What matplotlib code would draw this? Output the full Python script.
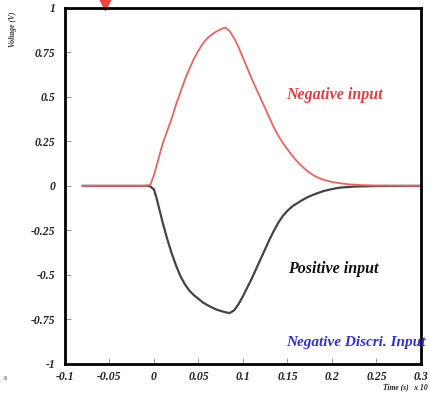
import matplotlib
matplotlib.use("Agg")
import matplotlib.pyplot as plt

# Dados (tempo em unidades de 1e-5 s, tensão em V)
t_neg = [-0.08, -0.01, -0.004, 0.0, 0.005, 0.010, 0.015, 0.020, 0.025, 0.030,
         0.035, 0.040, 0.045, 0.050, 0.055, 0.060, 0.065, 0.070, 0.075, 0.080,
         0.085, 0.090, 0.095, 0.100, 0.105, 0.110, 0.115, 0.120, 0.125, 0.130,
         0.135, 0.140, 0.145, 0.150, 0.155, 0.160, 0.165, 0.170, 0.175, 0.180,
         0.185, 0.190, 0.200, 0.210, 0.220, 0.235, 0.250, 0.300]
v_neg = [0.0, 0.0, 0.005, 0.06, 0.15, 0.24, 0.31, 0.38, 0.46, 0.53,
         0.60, 0.66, 0.715, 0.76, 0.80, 0.83, 0.85, 0.867, 0.88, 0.89,
         0.87, 0.83, 0.78, 0.72, 0.66, 0.60, 0.545, 0.49, 0.435, 0.38,
         0.325, 0.28, 0.24, 0.205, 0.172, 0.142, 0.116, 0.093, 0.073, 0.057,
         0.045, 0.035, 0.022, 0.014, 0.008, 0.004, 0.002, 0.0]

t_pos = [-0.08, -0.005, 0.0, 0.003, 0.006, 0.010, 0.015, 0.020, 0.025, 0.030,
         0.035, 0.040, 0.045, 0.050, 0.055, 0.060, 0.065, 0.070, 0.075, 0.080,
         0.085, 0.090, 0.095, 0.100, 0.105, 0.110, 0.115, 0.120, 0.125, 0.130,
         0.135, 0.140, 0.145, 0.150, 0.156, 0.165, 0.172, 0.179, 0.190, 0.200,
         0.209, 0.225, 0.250, 0.300]
v_pos = [0.0, 0.0, -0.02, -0.07, -0.13, -0.21, -0.30, -0.38, -0.45, -0.51,
         -0.555, -0.59, -0.615, -0.635, -0.655, -0.67, -0.683, -0.695, -0.703, -0.71,
         -0.715, -0.70, -0.665, -0.62, -0.57, -0.52, -0.465, -0.41, -0.355, -0.30,
         -0.25, -0.205, -0.168, -0.14, -0.113, -0.085, -0.065, -0.05, -0.03, -0.018,
         -0.01, -0.004, -0.001, 0.0]

x_ticks = [-0.1, -0.05, 0, 0.05, 0.1, 0.15, 0.2, 0.25, 0.3]
x_labels = ['-0.1', '-0.05', '0', '0.05', '0.1', '0.15', '0.2', '0.25', '0.3']
y_ticks = [-1, -0.75, -0.5, -0.25, 0, 0.25, 0.5, 0.75, 1]
y_labels = ['-1', '-0.75', '-0.5', '-0.25', '0', '0.25', '0.5', '0.75', '1']

fonte = {'family': 'Liberation Serif', 'style': 'italic', 'weight': 'bold'}

fig = plt.figure(figsize=(4.3, 3.95), dpi=100)
ax = fig.add_axes([0.151, 0.079, 0.828, 0.901])

ax.plot(t_pos, v_pos, color='#444444', lw=1.6)
ax.plot(t_neg, v_neg, color='#f06060', lw=1.3)

ax.set_xlim(-0.1, 0.3)
ax.set_ylim(-1, 1)
ax.set_xticks(x_ticks)
ax.set_xticklabels(x_labels, fontdict=fonte, fontsize=8.5, color='#222222')
ax.set_yticks(y_ticks)
ax.set_yticklabels(y_labels, fontdict=fonte, fontsize=8.5, color='#222222')
ax.tick_params(axis='y', direction='in', length=4, width=0.6, color='#888888', pad=7)
ax.tick_params(axis='x', direction='in', length=4, width=0.6, color='#888888', pad=5)
for s in ax.spines.values():
    s.set_linewidth(2)

# Textos
ax.text(0.203, 0.51, 'Negative input', color='#e83c3c', fontsize=11.5,
        ha='center', va='center', **fonte)
ax.text(0.201, -0.47, 'Positive input', color='#111111', fontsize=11.5,
        ha='center', va='center', **fonte)
ax.text(0.149, -0.88, 'Negative Discri. Input', color='#3030e0', fontsize=11,
        ha='left', va='center', clip_on=False, **fonte)

fig.text(0.03, 0.925, 'Voltage (V)', rotation=90, fontsize=5.5, ha='center',
         va='center', color='#333333', **fonte)
fig.text(0.995, 0.02, 'Time (s)   x 10', fontsize=5.5, ha='right', va='center',
         color='#222222', **fonte)
fig.text(0.012, 0.043, '-5', fontsize=4, ha='center', va='center', color='#444444')

# Seta vermelha no topo
ax.plot([-0.055], [1.03], marker='v', color='#ee4444', ms=10, clip_on=False)

fig.savefig('out.png', dpi=100)
